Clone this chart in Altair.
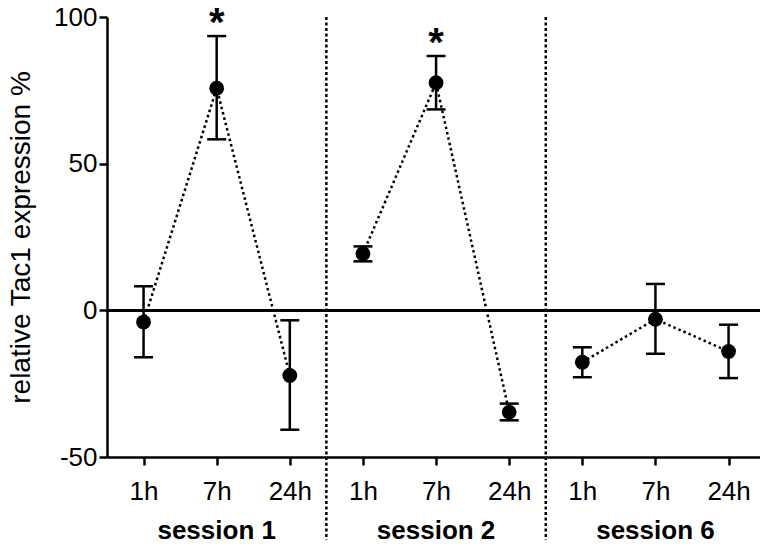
import altair as alt
import pandas as pd

sessions = ["session 1"] * 3 + ["session 2"] * 3 + ["session 6"] * 3
hours = ["1h", "7h", "24h"] * 3
means = [-4.0, 75.7, -22.2, 19.3, 77.6, -34.7, -17.7, -3.0, -14.0]
lower = [-16.0, 58.3, -40.7, 16.7, 68.5, -37.5, -22.8, -14.8, -23.1]
upper = [8.2, 93.5, -3.4, 21.8, 86.7, -31.8, -12.6, 9.0, -4.9]
significant = [False, True, False, False, True, False, False, False, False]
session_names = ["session 1", "session 2", "session 6"]
y_ticks = [-50, 0, 50, 100]

df = pd.DataFrame({
    "session": sessions,
    "hour": hours,
    "pos": [i + 0.5 for i in range(len(hours))],
    "mean": means,
    "lo": lower,
    "hi": upper,
    "sig": significant,
})
sess_df = pd.DataFrame({"session": session_names,
                        "pos": [1.5 + 3 * i for i in range(len(session_names))]})
sep_df = pd.DataFrame({"pos": [3, 6]})

FONT = "Liberation Sans"
STEP = 73.125
W, H = 653, 440

xscale = alt.Scale(domain=[0, W / STEP], nice=False, zero=False)
yscale = alt.Scale(domain=[-50, 100], nice=False, zero=False)

hour_label_expr = "['1h','7h','24h'][floor(datum.value) % 3]"

x_axis = alt.Axis(values=[i + 0.5 for i in range(9)], labelExpr=hour_label_expr,
                  title=None, labelPadding=13, labelFontSize=26)
y_axis = alt.Axis(values=y_ticks, labelExpr="'' + datum.value",
                  title="relative Tac1 expression %", titlePadding=18)

base = alt.Chart(df)

points_base = base.encode(
    x=alt.X("pos:Q", scale=xscale, axis=x_axis),
    y=alt.Y("mean:Q", scale=yscale, axis=y_axis),
)

separators = alt.Chart(sep_df).mark_rule(
    color="black", strokeWidth=2.5, strokeDash=[3, 2.5]
).encode(
    x=alt.X("pos:Q", scale=xscale),
    y=alt.value(0),
    y2=alt.value(H + 95),
)

zero_line = alt.Chart(df).mark_rule(color="black", strokeWidth=2.5).encode(
    y=alt.datum(0, scale=yscale)
)

lines = points_base.mark_line(
    color="black", strokeWidth=2.5, strokeDash=[2.5, 3]
).encode(detail="session:N")

err = base.mark_rule(color="black", strokeWidth=2.5).encode(
    x=alt.X("pos:Q", scale=xscale),
    y=alt.Y("lo:Q", scale=yscale),
    y2="hi:Q",
)
cap_lo = base.mark_tick(orient="horizontal", size=19, thickness=2.5, color="black", opacity=1).encode(
    x=alt.X("pos:Q", scale=xscale),
    y=alt.Y("lo:Q", scale=yscale),
)
cap_hi = base.mark_tick(orient="horizontal", size=19, thickness=2.5, color="black", opacity=1).encode(
    x=alt.X("pos:Q", scale=xscale),
    y=alt.Y("hi:Q", scale=yscale),
)

pts = points_base.mark_circle(size=220, color="black", opacity=1)

stars = base.transform_filter("datum.sig").mark_text(
    text="*", fontSize=40, fontWeight="bold", font=FONT, color="black",
    baseline="alphabetic", dy=0
).encode(
    x=alt.X("pos:Q", scale=xscale),
    y=alt.Y("hi:Q", scale=yscale),
)

sess_labels = alt.Chart(sess_df).mark_text(
    fontSize=26, fontWeight="bold", font=FONT, color="black", baseline="alphabetic"
).encode(
    x=alt.X("pos:Q", scale=xscale),
    y=alt.value(H + 82),
    text="session:N",
)

chart = alt.layer(
    separators, zero_line, lines, err, cap_lo, cap_hi, pts, stars, sess_labels
).properties(
    width=W, height=H,
    autosize=alt.AutoSizeParams(type="none"),
    padding={"left": 99, "top": 9, "right": 0, "bottom": 83},
).configure_view(stroke=None).configure_axis(
    grid=False,
    domainColor="black", domainWidth=2.5,
    tickColor="black", tickWidth=2.5, tickSize=8,
    labelFont=FONT, labelFontSize=26, labelColor="black", labelPadding=2,
    titleFont=FONT, titleFontSize=28, titleFontWeight="normal", titleColor="black",
)

chart.save("out.html", embed_options={"renderer": "svg", "actions": False})
